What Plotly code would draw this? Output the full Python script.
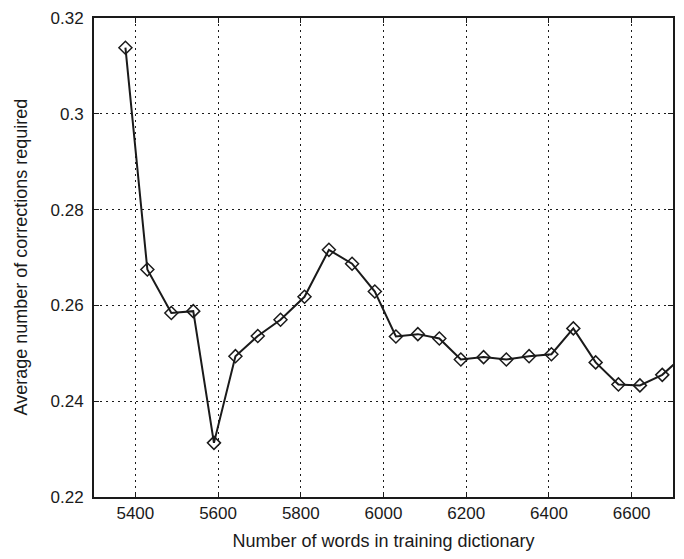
import plotly.graph_objects as go

words = [5376, 5429, 5487, 5540, 5590, 5642, 5696, 5751, 5809, 5868, 5924, 5979,
         6030, 6083, 6135, 6187, 6242, 6297, 6352, 6406, 6459, 6513, 6568, 6620,
         6674, 6728]
corrections = [0.3138, 0.2675, 0.2584, 0.2588, 0.2313, 0.2494, 0.2536, 0.2570,
               0.2618, 0.2716, 0.2687, 0.2629, 0.2535, 0.2540, 0.2531, 0.2487,
               0.2492, 0.2487, 0.2494, 0.2498, 0.2552, 0.2481, 0.2435, 0.2433,
               0.2455, 0.2497]

x_ticks = [5400, 5600, 5800, 6000, 6200, 6400, 6600]
y_ticks = [0.22, 0.24, 0.26, 0.28, 0.3, 0.32]
y_tick_labels = ["0.22", "0.24", "0.26", "0.28", "0.3", "0.32"]

fig = go.Figure()
fig.add_trace(go.Scatter(
    x=words, y=corrections, mode="lines+markers",
    line=dict(color="#1a1a1a", width=2),
    marker=dict(symbol="diamond-open", size=10, color="#1a1a1a",
                line=dict(width=1.5, color="#1a1a1a")),
    cliponaxis=True, showlegend=False,
))

font = "Liberation Sans, Arial, Helvetica, sans-serif"
fig.update_layout(
    width=684, height=559,
    margin=dict(l=94, r=9, t=10, b=62),
    paper_bgcolor="white", plot_bgcolor="white",
    font=dict(family=font, size=17, color="#1a1a1a"),
    annotations=[dict(
        text="Average number of corrections required",
        xref="paper", yref="paper", x=0, y=0.5, xshift=-74,
        xanchor="center", yanchor="middle", textangle=-90,
        showarrow=False, font=dict(size=18),
    )],
)
fig.update_xaxes(
    range=[5300, 6700], tickvals=x_ticks,
    showgrid=True, gridcolor="#1a1a1a", gridwidth=1, griddash="2px,4px",
    showline=True, linecolor="#1a1a1a", linewidth=2, mirror="ticks",
    ticks="inside", ticklen=5, tickcolor="#1a1a1a",
    zeroline=False,
    title=dict(text="Number of words in training dictionary", font=dict(size=18), standoff=12),
    tickfont=dict(size=17),
)
fig.update_yaxes(
    range=[0.22, 0.32], tickvals=y_ticks, ticktext=y_tick_labels,
    showgrid=True, gridcolor="#1a1a1a", gridwidth=1, griddash="2px,4px",
    showline=True, linecolor="#1a1a1a", linewidth=2, mirror="ticks",
    ticks="inside", ticklen=5, tickcolor="#1a1a1a",
    zeroline=False, ticklabelstandoff=5,
    tickfont=dict(size=17),
)

fig.write_html("out.html")
